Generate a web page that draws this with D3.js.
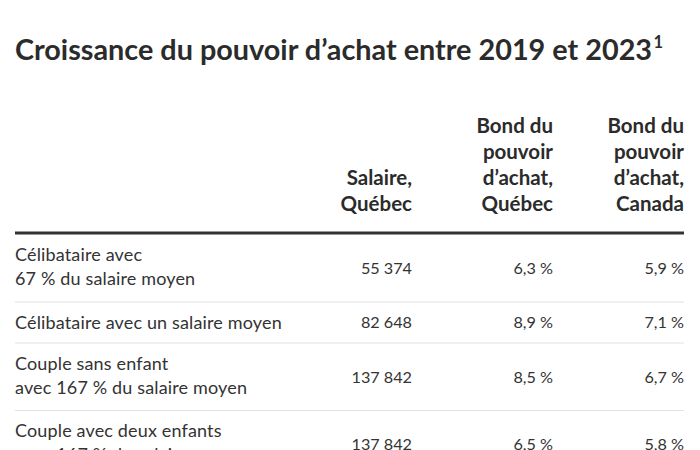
<!DOCTYPE html>
<html lang="fr">
<head>
<meta charset="utf-8">
<script src="https://cdn.jsdelivr.net/npm/d3@7"></script>
<style>
  html, body { margin: 0; padding: 0; background: #fff; }
  svg { display: block; }
  text { font-family: Lato, "Noto Sans", sans-serif; }
</style>
</head>
<body>
<svg id="chart" width="700" height="450"></svg>
<script>
// ---- data ----
const title = "Croissance du pouvoir d\u2019achat entre 2019 et 2023";
const titleNote = "1";
const columnHeaders = [
  ["Salaire,", "Québec"],
  ["Bond du", "pouvoir", "d\u2019achat,", "Québec"],
  ["Bond du", "pouvoir", "d\u2019achat,", "Canada"]
];
const categories = [
  ["Célibataire avec", "67 % du salaire moyen"],
  ["Célibataire avec un salaire moyen"],
  ["Couple sans enfant", "avec 167 % du salaire moyen"],
  ["Couple avec deux enfants", "avec 167 % du salaire moyen"]
];
const salaireQuebec = [55374, 82648, 137842, 137842];
const bondQuebec = [6.3, 8.9, 8.5, 6.5];
const bondCanada = [5.9, 7.1, 6.7, 5.8];

// ---- formatting ----
const fr = d3.formatLocale({ decimal: ",", thousands: "\u00a0", grouping: [3], currency: ["", " $"] });
const fmtInt = fr.format(",d");
const fmtPct = v => fr.format(".1f")(v) + "\u00a0%";

const svg = d3.select("#chart");
const left = 15, right = 684;

// title
const t = svg.append("text")
  .attr("x", left).attr("y", 59.5)
  .attr("fill", "#2b2b2b")
  .attr("font-size", 28.8)
  .attr("font-weight", 700)
  .text(title);
t.append("tspan").attr("dy", -12).attr("dx", 1.5).attr("font-size", 16.5).text(titleNote);

// column scale (right edges of columns)
const colX = d3.scaleOrdinal().domain([0, 1, 2]).range([412, 553, 684]);

// header
const hdrLineH = 26;
const hdrBottom = 211;
columnHeaders.forEach((lines, ci) => {
  const g = svg.append("text")
    .attr("text-anchor", "end")
    .attr("fill", "#2b2b2b")
    .attr("font-size", 20.5)
    .attr("font-weight", 700);
  g.selectAll("tspan").data(lines).join("tspan")
    .attr("x", colX(ci))
    .attr("y", (d, i) => hdrBottom - (lines.length - 1 - i) * hdrLineH)
    .text(d => d);
});

// thick rule
const ruleY = 233;
svg.append("line")
  .attr("x1", left).attr("x2", right)
  .attr("y1", ruleY).attr("y2", ruleY)
  .attr("stroke", "#333").attr("stroke-width", 3);

// rows: heights depend on line count
const lineH = 24;
const rowHeights = categories.map(c => 41 + (c.length - 1) * 26.5);
const rowTops = [];
rowHeights.reduce((acc, h) => { rowTops.push(acc); return acc + h; }, ruleY + 1.5);
const rowY = d3.scaleOrdinal().domain(d3.range(categories.length)).range(rowTops);

const rows = svg.selectAll("g.row").data(categories).join("g").attr("class", "row");

rows.each(function (lines, ri) {
  const g = d3.select(this);
  const top = rowY(ri);
  const h = rowHeights[ri];
  const lab = g.append("text").attr("fill", "#333").attr("font-size", 18)
    .attr("letter-spacing", 0.15);
  lab.selectAll("tspan").data(lines).join("tspan")
    .attr("x", left)
    .attr("y", (d, i) => top + 26.5 + i * lineH)
    .text(d => d);

  const vals = [fmtInt(salaireQuebec[ri]), fmtPct(bondQuebec[ri]), fmtPct(bondCanada[ri])];
  const vy = top + (lines.length === 1 ? 26 : 39.5);
  g.selectAll("text.val").data(vals).join("text")
    .attr("class", "val")
    .attr("x", (d, i) => colX(i))
    .attr("y", vy)
    .attr("text-anchor", "end")
    .attr("fill", "#333")
    .attr("font-size", 16.2)
    .text(d => d);

  if (ri < categories.length - 1) {
    g.append("line")
      .attr("x1", left).attr("x2", right)
      .attr("y1", top + h).attr("y2", top + h)
      .attr("stroke", "#e2e2e2").attr("stroke-width", 1.2);
  }
});
</script>
</body>
</html>
